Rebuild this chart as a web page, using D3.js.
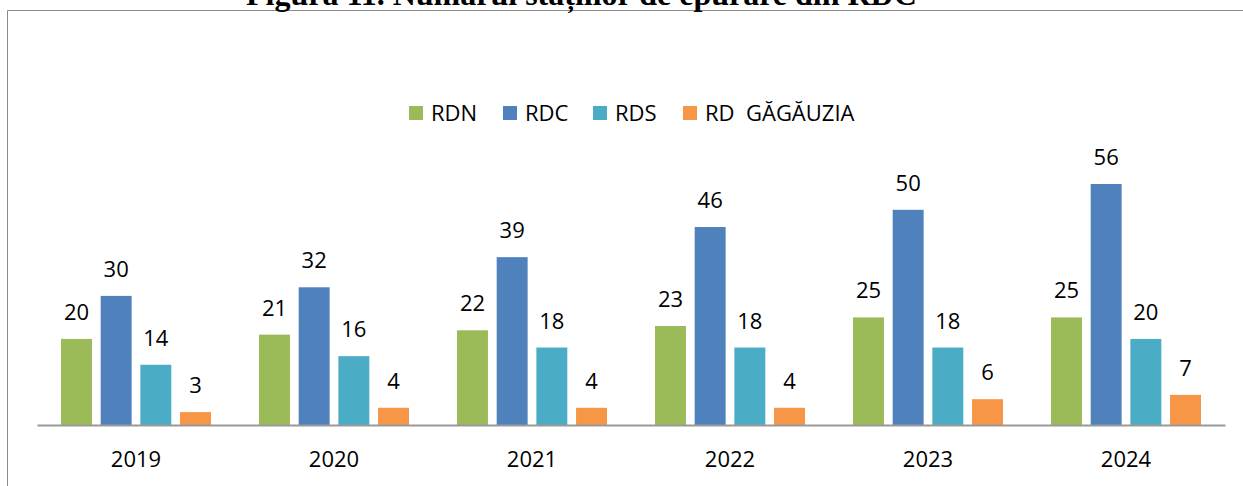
<!DOCTYPE html>
<html>
<head>
<meta charset="utf-8">
<script src="https://cdn.jsdelivr.net/npm/d3@7"></script>
<style>
  body { margin: 0; background: #fff; }
  svg { display: block; }
</style>
</head>
<body>
<svg id="chart" width="1243" height="486"></svg>
<script>
// chart data
var years = ["2019", "2020", "2021", "2022", "2023", "2024"];
var seriesNames = ["RDN", "RDC", "RDS", "RD  GĂGĂUZIA"];
var seriesColors = ["#9BBB59", "#4F81BD", "#4BACC6", "#F79646"];
var rdn = [20, 21, 22, 23, 25, 25];
var rdc = [30, 32, 39, 46, 50, 56];
var rds = [14, 16, 18, 18, 18, 20];
var gagauzia = [3, 4, 4, 4, 6, 7];
var seriesValues = [rdn, rdc, rds, gagauzia];

var svg = d3.select("#chart");
var font = "'Open Sans', sans-serif";

// frame around the chart area
svg.append("path")
    .attr("d", "M7.5,486 V10.5 H1243")
    .attr("fill", "none")
    .attr("stroke", "#8c8c8c")
    .attr("stroke-width", 1);

// clipped title at the very top
svg.append("text")
    .attr("x", 246)
    .attr("y", 5)
    .attr("font-family", "'Liberation Serif', serif")
    .attr("font-weight", "bold")
    .attr("font-size", "32px")
    .attr("fill", "#000")
    .text("Figura 11. Numărul stațiilor de epurare din RDC");

var left = 37, right = 1225, baseY = 425;

var x = d3.scaleBand()
    .domain(years)
    .range([left, right]);

var xInner = d3.scaleBand()
    .domain(d3.range(seriesNames.length))
    .range([24, x.bandwidth() - 24])
    .paddingInner(0.22);

var y = d3.scaleLinear()
    .domain([0, 56])
    .range([baseY, 184]);

// bars per series
seriesValues.forEach(function (vals, s) {
    var g = svg.append("g");
    g.selectAll("rect")
        .data(vals)
        .enter().append("rect")
        .attr("x", function (d, i) { return x(years[i]) + xInner(s); })
        .attr("y", function (d) { return y(d); })
        .attr("width", xInner.bandwidth())
        .attr("height", function (d) { return baseY - y(d); })
        .attr("fill", seriesColors[s]);
    g.selectAll("text")
        .data(vals)
        .enter().append("text")
        .attr("x", function (d, i) { return x(years[i]) + xInner(s) + xInner.bandwidth() / 2; })
        .attr("y", function (d) { return y(d) - 19; })
        .attr("text-anchor", "middle")
        .attr("font-family", font)
        .attr("font-size", "22px")
        .attr("fill", "#000")
        .text(function (d) { return d; });
});

// x axis
var xAxis = svg.append("g")
    .attr("transform", "translate(0," + baseY + ")")
    .call(d3.axisBottom(x).tickSize(0).tickPadding(26));
xAxis.select(".domain")
    .attr("stroke", "#999")
    .attr("stroke-width", 2);
xAxis.selectAll("text")
    .attr("font-family", font)
    .attr("font-size", "22px")
    .attr("fill", "#000");

// legend
var legendX = [409, 503, 593, 683];
var legend = svg.append("g");
seriesNames.forEach(function (name, i) {
    legend.append("rect")
        .attr("x", legendX[i])
        .attr("y", 106)
        .attr("width", 14)
        .attr("height", 14)
        .attr("fill", seriesColors[i]);
    legend.append("text")
        .attr("x", legendX[i] + 22)
        .attr("y", 121)
        .attr("font-family", font)
        .attr("font-size", "22px")
        .attr("fill", "#000")
        .attr("xml:space", "preserve")
        .style("white-space", "pre")
        .text(name);
});
</script>
</body>
</html>
